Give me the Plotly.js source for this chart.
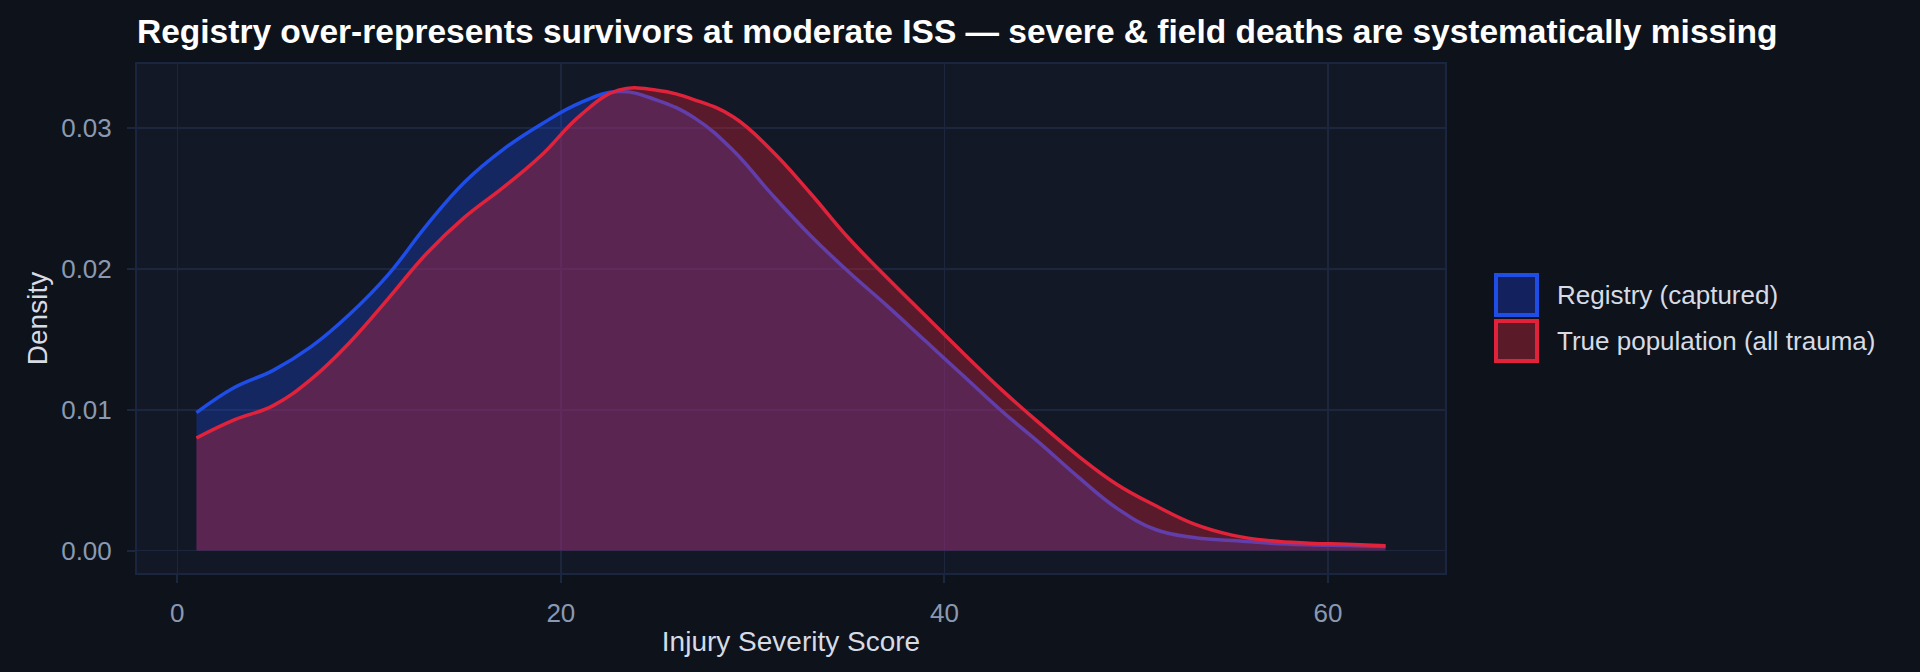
<!DOCTYPE html>
<html>
<head>
<meta charset="utf-8">
<script src="https://cdn.plot.ly/plotly-3.0.1.min.js"></script>
<style>
  html, body { margin: 0; padding: 0; background: #0e121b; }
  #chart { width: 1920px; height: 672px; }
</style>
</head>
<body>
<div id="chart"></div>
<script>
// Injury Severity Score grid (KDE evaluation points)
var iss = [1, 3, 5, 7, 9, 11, 13, 15, 17, 19, 21, 23, 25, 27, 29, 31, 33, 35, 37, 39,
           41, 43, 45, 47, 49, 51, 53, 55, 57, 59, 61, 63];

// Density of the registry sample (captured patients)
var registryDensity = [0.0098, 0.0116, 0.0128, 0.0145, 0.0168, 0.0196, 0.0231, 0.0262, 0.0285, 0.0303,
                       0.0318, 0.0326, 0.0320, 0.0307, 0.0284, 0.0253, 0.0224, 0.0198, 0.0174, 0.0149,
                       0.0124, 0.0099, 0.0076, 0.0052, 0.0030, 0.00150, 0.00093, 0.00072, 0.00053, 0.00042,
                       0.00036, 0.0003];

// Density of the true population (all trauma)
var trueDensity = [0.0080, 0.0093, 0.0103, 0.0122, 0.0148, 0.0179, 0.0211, 0.0237, 0.0258, 0.0281,
                   0.0309, 0.0327, 0.0327, 0.0320, 0.0308, 0.0284, 0.0254, 0.0222, 0.0194, 0.0167,
                   0.0140, 0.0114, 0.0090, 0.0067, 0.0047, 0.0032, 0.0019, 0.0011, 0.0007, 0.00053,
                   0.00045, 0.00035];

var seriesNames = ['Registry (captured)', 'True population (all trauma)'];
var xTicks = [0, 20, 40, 60];
var yTicks = [0, 0.01, 0.02, 0.03];

(function() {
    'use strict';

    var W = 1920, H = 672;
    var margin = { l: 137, r: 475, t: 64, b: 99 };
    var plotW = W - margin.l - margin.r;
    var plotH = H - margin.t - margin.b;

    var BLUE = '#1f4de8';
    var RED = '#e0233a';
    var GRID = '#1c263c';
    var TICK = '#8a99b2';
    var LABEL = '#d6dbe4';
    var FONT = '"Liberation Sans", Arial, Helvetica, sans-serif';

    // pixel -> paper helpers for the hand-drawn legend
    function px(x) { return (x - margin.l) / plotW; }
    function py(y) { return (H - margin.b - y) / plotH; }

    var traces = [
        {
            name: seriesNames[0],
            x: iss,
            y: registryDensity,
            type: 'scatter',
            mode: 'lines',
            fill: 'tozeroy',
            fillcolor: 'rgba(31,77,232,0.30)',
            line: { color: BLUE, width: 3.5, shape: 'spline', smoothing: 1.2 },
            showlegend: false,
        },
        {
            name: seriesNames[1],
            x: iss,
            y: trueDensity,
            type: 'scatter',
            mode: 'lines',
            fill: 'tozeroy',
            fillcolor: 'rgba(224,35,58,0.35)',
            line: { color: RED, width: 3.5, shape: 'spline', smoothing: 1.2 },
            showlegend: false,
        },
    ];

    // legend: square swatches + labels, to the right of the plot
    var swatches = [
        { top: 273, fill: '#13225e', line: BLUE },
        { top: 319, fill: '#5a1a28', line: RED },
    ];
    var shapes = [];
    var annotations = [];
    swatches.forEach(function(s, i) {
        shapes.push({
            type: 'rect', xref: 'paper', yref: 'paper',
            x0: px(1496), x1: px(1537), y0: py(s.top + 2), y1: py(s.top + 42),
            fillcolor: s.fill,
            line: { color: s.line, width: 4 },
            layer: 'above',
        });
        annotations.push({
            xref: 'paper', yref: 'paper',
            x: px(1555), y: py(s.top + 22),
            xanchor: 'left', yanchor: 'middle',
            text: seriesNames[i],
            showarrow: false,
            font: { family: FONT, size: 26, color: LABEL },
        });
    });

    var axisCommon = {
        gridcolor: GRID,
        gridwidth: 1.5,
        zeroline: false,
        showline: true,
        mirror: true,
        linecolor: '#1a2640',
        linewidth: 2,
        ticks: 'outside',
        ticklen: 8,
        tickwidth: 2,
        tickcolor: GRID,
        tickfont: { family: FONT, size: 26, color: TICK },
    };

    var layout = {
        width: W,
        height: H,
        margin: margin,
        paper_bgcolor: '#0e121b',
        plot_bgcolor: '#121826',
        font: { family: FONT, color: LABEL },
        title: {
            text: 'Registry over-represents survivors at moderate ISS \u2014 severe & field deaths are systematically missing',
            font: { family: FONT, size: 33.5, color: '#ffffff', weight: 'bold' },
            x: margin.l / W, xref: 'container', xanchor: 'left',
            y: 1 - 31 / H, yref: 'container', yanchor: 'middle',
        },
        xaxis: Object.assign({}, axisCommon, {
            range: [-2.1, 66.1],
            tickvals: xTicks,
            ticklabelstandoff: 8,
            title: { text: 'Injury Severity Score', font: { family: FONT, size: 28, color: LABEL }, standoff: 4 },
        }),
        yaxis: Object.assign({}, axisCommon, {
            range: [-0.00159, 0.03456],
            tickvals: yTicks,
            tickformat: '.2f',
            ticklabelstandoff: 10,
            title: { text: 'Density', font: { family: FONT, size: 28, color: LABEL }, standoff: 5 },
        }),
        shapes: shapes,
        annotations: annotations,
        showlegend: false,
    };

    Plotly.newPlot('chart', traces, layout, { displayModeBar: false, staticPlot: true });
})();
</script>
</body>
</html>
